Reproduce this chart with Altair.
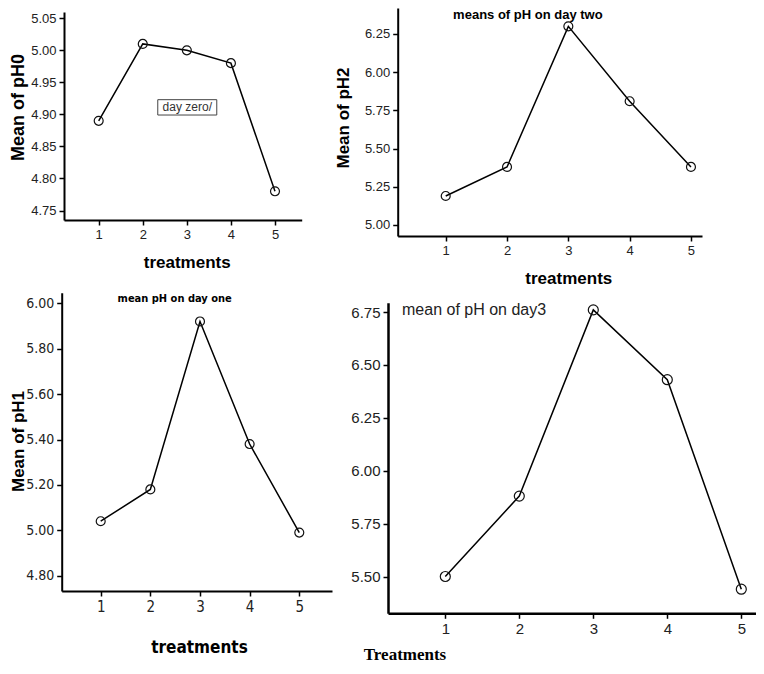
import altair as alt
import pandas as pd

# ---------------- data ----------------
treatments = [1, 2, 3, 4, 5]
ph_day0 = [4.89, 5.01, 5.00, 4.98, 4.78]
ph_day2 = [5.19, 5.38, 6.30, 5.81, 5.38]
ph_day1 = [5.04, 5.18, 5.92, 5.38, 4.99]
ph_day3 = [5.50, 5.88, 6.76, 6.43, 5.44]

ticks_day0 = [4.75, 4.80, 4.85, 4.90, 4.95, 5.00, 5.05]
ticks_day2 = [5.00, 5.25, 5.50, 5.75, 6.00, 6.25]
ticks_day1 = [4.80, 5.00, 5.20, 5.40, 5.60, 5.80, 6.00]
ticks_day3 = [5.50, 5.75, 6.00, 6.25, 6.50, 6.75]

# annotation texts anchored in data coordinates (treatment, mean)
note_day0 = ["day zero/"]
note_day0_at = [3.01, 4.911]
note_day2 = ["means of pH on day two"]
note_day2_at = [2.34, 6.375]
note_day1 = ["mean pH on day one"]
note_day1_at = [2.49, 6.019]
note_day3 = ["mean of pH on day3"]
note_day3_at = [0.415, 6.759]

W, H = 748, 658
SANS = "Liberation Sans, Arial, sans-serif"
NARROW = "Liberation Sans Narrow, Arial Narrow, DejaVu Sans Condensed, Liberation Sans, sans-serif"
SERIF = "Liberation Serif, Times New Roman, serif"


def axis(orient, offset, values, fmt, font, fsize, title, tfont, tsize, tx, ty,
         dwidth=2.0):
    kw = dict(
        orient=orient, offset=offset, values=values, format=fmt, grid=False,
        domainColor="black", domainWidth=dwidth, tickColor="black",
        tickWidth=1.5, tickSize=5, labelFont=font, labelFontSize=fsize,
        labelColor="#222", labelPadding=3, labelOverlap=False,
        labelFlush=False, titleColor="black", titleFont=tfont,
        titleFontWeight="bold", titleFontSize=tsize, titleBaseline="middle",
        titleX=tx, titleY=ty, title=title,
    )
    if orient == "left":
        kw["titleAngle"] = 270
    return alt.Axis(**kw)


def panel(values, xdom, xrng, ydom, yrng, xax, yax, size, texts, text_at,
          tstyle, box=False):
    df = pd.DataFrame({"treatment": treatments, "mean": values})
    x = alt.X("treatment:Q",
              scale=alt.Scale(domain=xdom, range=xrng, nice=False, zero=False),
              axis=xax)
    y = alt.Y("mean:Q",
              scale=alt.Scale(domain=ydom, range=yrng, nice=False, zero=False),
              axis=yax)
    base = alt.Chart(df)
    line = base.mark_line(color="black", strokeWidth=1.5).encode(x=x, y=y)
    pts = base.mark_point(shape="circle", filled=False, color="#111",
                          size=size, strokeWidth=1.2, opacity=1).encode(x=x, y=y)
    ann = pd.DataFrame({"treatment": [text_at[0]], "mean": [text_at[1]],
                        "label": texts})
    txt = alt.Chart(ann).mark_text(**tstyle).encode(x=x, y=y, text="label:N")
    layers = [line, pts]
    if box:
        rect = alt.Chart(ann).mark_point(
            shape="M-1,-0.26L1,-0.26L1,0.26L-1,0.26Z", size=3481,
            filled=False, color="#444", strokeWidth=1, opacity=1
        ).encode(x=x, y=y)
        layers.append(rect)
    layers.append(txt)
    return alt.layer(*layers)


p1 = panel(
    ph_day0, [0.213, 5.606], [56, 293.7], [4.7352, 5.0598], [212, 4],
    axis("bottom", 212 - H, treatments, "d", SANS, 13, "treatments", SANS, 17,
         178.7, 42.7),
    axis("left", -56, ticks_day0, ".2f", SANS, 13, "Mean of pH0", SANS, 18,
         -46, 99),
    80, note_day0, note_day0_at,
    dict(font=SANS, fontSize=12, color="#333", align="center",
         baseline="middle"),
    box=True,
)

p2 = panel(
    ph_day2, [0.217, 5.18], [389.7, 694], [4.928, 6.420], [228, 0],
    axis("bottom", 228 - H, treatments, "d", SANS, 13, "treatments", SANS, 17,
         560.3, 42.3),
    axis("left", -389.7, ticks_day2, ".2f", SANS, 13, "Mean of pH2", SANS, 17,
         -54.7, 109.5),
    80, note_day2, note_day2_at,
    dict(font=SANS, fontSize=13, fontWeight="bold", color="black",
         align="center", baseline="middle"),
)

p3 = panel(
    ph_day1, [0.2145, 5.659], [53.7, 324], [4.7326, 6.0467], [583, 284.7],
    axis("bottom", 583 - H, treatments, "d", NARROW, 15, "treatments", NARROW,
         17, 191, 56.3),
    axis("left", -53.7, ticks_day1, ".2f", NARROW, 14, "Mean of pH1", SANS, 17,
         -43.2, 433),
    80, note_day1, note_day1_at,
    dict(font=NARROW, fontSize=11, fontWeight="bold", color="black",
         align="center", baseline="middle"),
)

p4 = panel(
    ph_day3, [0.2257, 5.2527], [380, 752], [5.3261, 6.794], [605.3, 294.7],
    axis("bottom", 605.3 - H, treatments, "d", SANS, 15, "Treatments", SERIF,
         17, 396.5, 41.5, dwidth=2.5),
    axis("left", -380, ticks_day3, ".2f", SANS, 15, None, SANS, 12, 0, 0,
         dwidth=2.5),
    100, note_day3, note_day3_at,
    dict(font=SANS, fontSize=16, color="#222", align="left",
         baseline="middle"),
)

chart = (
    alt.layer(p1, p2, p3, p4)
    .resolve_scale(x="independent", y="independent")
    .resolve_axis(x="independent", y="independent")
    .properties(width=W, height=H, padding=0,
                autosize=alt.AutoSizeParams(type="none"))
    .configure_view(strokeWidth=0)
)

chart.save("out.html", embed_options={"renderer": "svg", "actions": False})
